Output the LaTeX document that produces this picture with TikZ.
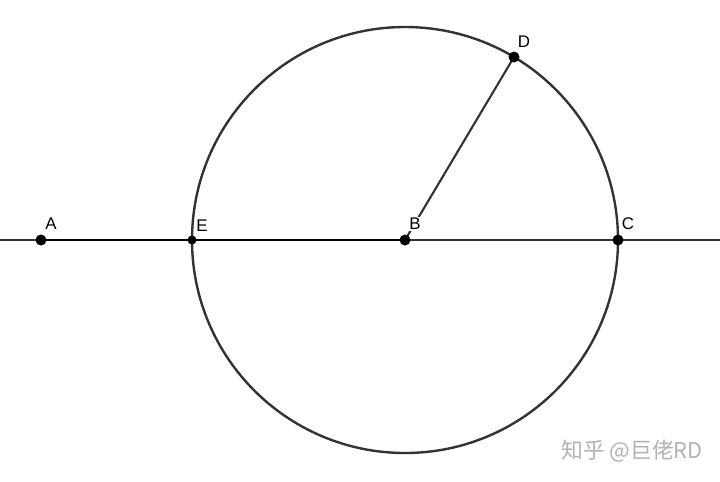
\documentclass[tikz,border=0pt]{standalone}
\usepackage{fontspec}
\setmainfont{Liberation Sans}
\newfontfamily\cjkfont{Noto Sans CJK SC}
\tikzset{
  pt/.style={fill=black},
  lbl/.style={inner sep=0.5pt,fill=white,font=\fontsize{12}{14}\selectfont},
}
\begin{document}
\begin{tikzpicture}[x=0.025cm,y=-0.025cm]
        \useasboundingbox (0,0) rectangle (720,481);
        \coordinate (L) at (0,240);
        \coordinate (R) at (720,240);
        \coordinate (A) at (41,240);
        \coordinate (E) at (192,240);
        \coordinate (B) at (405,240);
        \coordinate (C) at (618,240);
        \coordinate (D) at (514,57);
        \draw [line width=1.5pt,black!80] (L) to (R);
        \draw [line width=2pt,black] (A) to (B);
        \draw [line width=1.7pt,black!80] (B) circle[radius=213];
        \draw [line width=1.5pt,black!80] (B) to (D);
        \fill [pt] (A) circle[radius=5.5];
        \fill [pt] (E) circle[radius=4.5];
        \fill [pt] (B) circle[radius=5.5];
        \fill [pt] (C) circle[radius=5.5];
        \fill [pt] (D) circle[radius=5.5];
        \node [lbl] (lA) at (51,224) {A};
        \node [lbl,fill=none] (lE) at (202,226) {E};
        \node [lbl] (lB) at (415,224) {B};
        \node [lbl,fill=none] (lC) at (628,224) {C};
        \node [lbl,fill=none] (lD) at (524,42) {D};
        \node [inner sep=0pt,text=black!30,font=\fontsize{15.5}{17}\selectfont] (mark) at (632,451) {\cjkfont 知乎 @巨佬RD};
\end{tikzpicture}
\end{document}
